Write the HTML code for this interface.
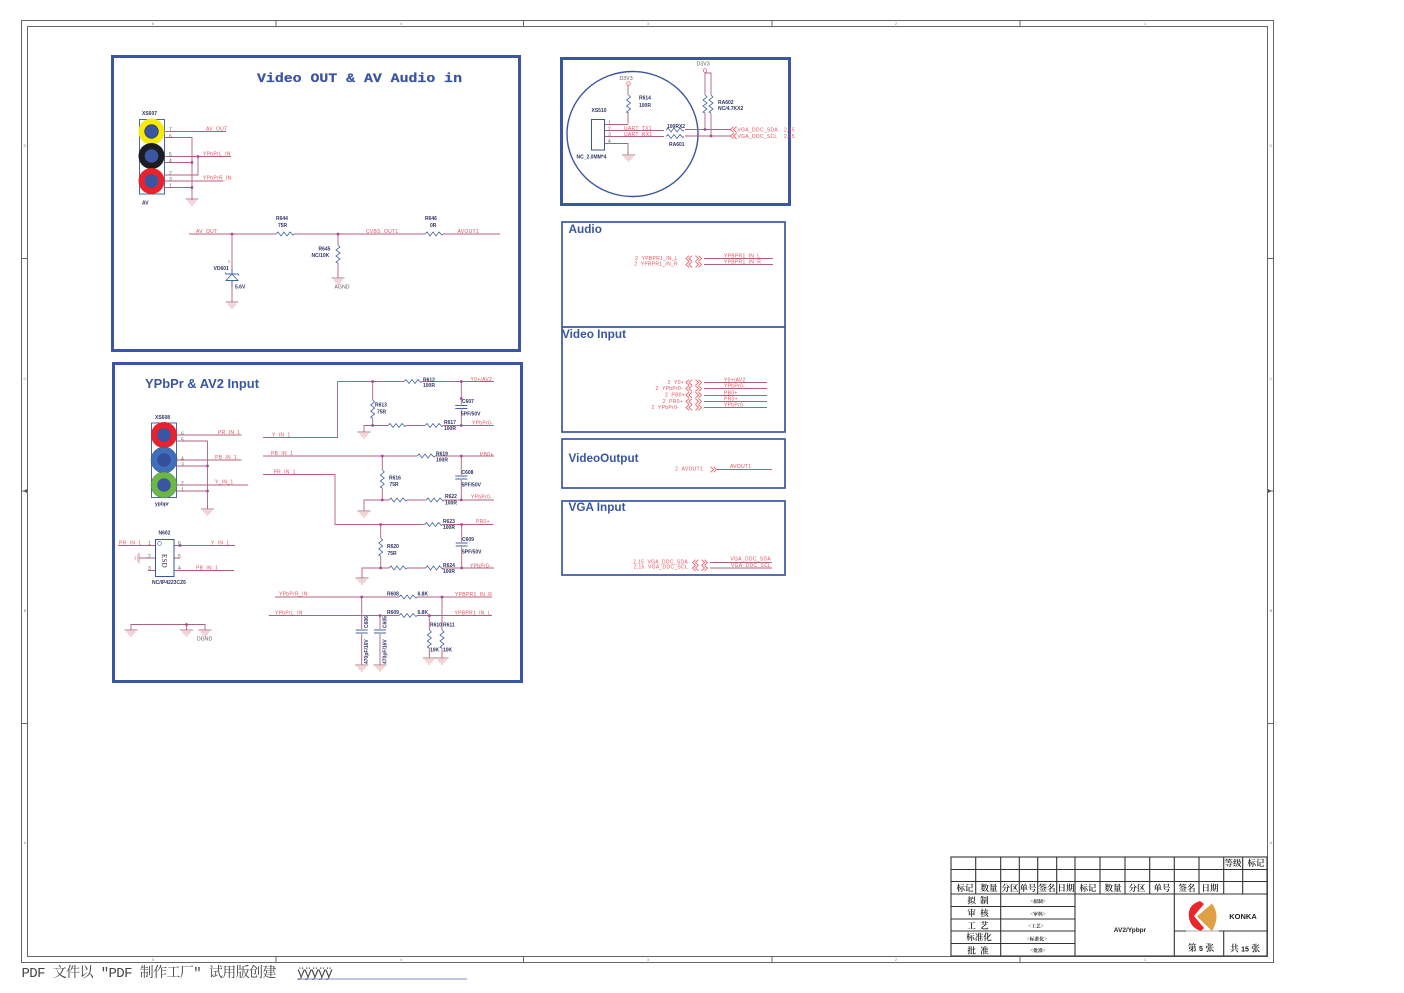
<!DOCTYPE html>
<html><head><meta charset="utf-8"><style>
html,body{margin:0;padding:0;background:#fff}
svg{display:block}
text{font-family:"Liberation Sans","Noto Sans CJK SC",sans-serif}
.r{fill:#e9505c;font-size:5px;letter-spacing:.3px}
.n{fill:#3d4270;font-size:5px;letter-spacing:.1px}
.nb{fill:#2f3464;font-size:5px;font-weight:bold}
.g{fill:#555;font-size:5px;letter-spacing:.2px}
.p{fill:#666;font-size:5px}
.t{fill:#3a55a2;font-size:11.8px;font-weight:bold}
.f{fill:#888;font-size:4px}
.c{fill:#111;font-family:"Liberation Serif","Noto Serif CJK SC",serif;font-size:8.5px;text-anchor:middle;font-weight:600}
.v{fill:#222;font-family:"Noto Serif CJK SC",serif;font-size:4.8px;text-anchor:middle;font-weight:700}
.w path,.w line,.w polyline{fill:none}
</style></head><body>
<svg width="1404" height="993" viewBox="0 0 1404 993" xmlns="http://www.w3.org/2000/svg">
<defs>
<g id="rh"><rect x="0" y="-3" width="18" height="6" fill="#fff"/><path d="M0,0l2,-2l3,4l3,-4l3,4l3,-4l3,3l1,-1" fill="none" stroke="#45639f" stroke-width=".8"/></g>
<g id="rv"><rect x="-3" y="0" width="6" height="18" fill="#fff"/><path d="M0,0l2,2l-4,3l4,3l-4,3l4,3l-4,3l2,1" fill="none" stroke="#45639f" stroke-width=".8"/></g>
<g id="gnd" fill="none" stroke="#e08a92" stroke-width=".65"><path d="M-6.5,0h13" stroke="#a0606f" stroke-width=".8"/><path d="M-4.5,2h9M-3,4h6M-1,6h2"/></g>
<g id="d"><rect x="-1.2" y="-1.2" width="2.4" height="2.4" fill="#a8409c"/></g>
<g id="cl" fill="none" stroke="#e8525e" stroke-width=".8"><path d="M3.5,-2.8l-3,2.8l3,2.8M6.5,-2.8l-3,2.8l3,2.8"/></g>
<g id="cr" fill="none" stroke="#e8525e" stroke-width=".8"><path d="M.5,-2.8l3,2.8l-3,2.8M3.5,-2.8l3,2.8l-3,2.8"/></g>
<g id="cap" fill="none" stroke="#45639f" stroke-width="1"><rect x="-6" y="-1" width="12" height="5" fill="#fff" stroke="none"/><path d="M-6,0h12M-6,3h12"/></g>
</defs>

<!-- frame -->
<g fill="none" stroke="#666" stroke-width="1">
<rect x="21.5" y="20.5" width="1252" height="942"/>
<rect x="27.5" y="26.5" width="1240" height="930" stroke="#666" stroke-width="1"/>
<path d="M276,21v6M523.5,21v6M772,21v6M1020,21v6M276,957v6M523.5,957v6M772,957v6M1020,957v6M22,258.5h6M22,491h6M22,723.5h6M1268,258.5h6M1268,491h6M1268,723.5h6"/>
</g>
<path d="M23,491l4,-2v4zM1272,491l-4,-2v4z" fill="#555"/>
<g class="f" text-anchor="middle">
<text class="f" x="153" y="25">6</text><text class="f" x="401" y="25">4</text><text class="f" x="648" y="25">3</text><text class="f" x="896" y="25">2</text><text class="f" x="1145" y="25">1</text>
<text class="f" x="153" y="961">5</text><text class="f" x="401" y="961">4</text><text class="f" x="648" y="961">3</text><text class="f" x="896" y="961">2</text><text class="f" x="1145" y="961">1</text>
<text class="f" x="25" y="147">D</text><text class="f" x="25" y="380">C</text><text class="f" x="25" y="612">B</text><text class="f" x="25" y="844">A</text>
<text class="f" x="1271" y="147">D</text><text class="f" x="1271" y="380">C</text><text class="f" x="1271" y="612">B</text><text class="f" x="1271" y="844">A</text>
</g>

<!-- blue boxes -->
<g fill="none" stroke="#3a55a2">
<rect x="112.5" y="56.5" width="407" height="294" stroke-width="3"/>
<rect x="561.5" y="58.5" width="228" height="146" stroke-width="3"/>
<rect x="113.5" y="363.5" width="408" height="318" stroke-width="3"/>
<rect x="562" y="222" width="223" height="210" stroke-width="1.7"/>
<path d="M562,327h223" stroke-width="1.7"/>
<rect x="562" y="439" width="223" height="49" stroke-width="1.7"/>
<rect x="562" y="501" width="223" height="74" stroke-width="1.7"/>
<ellipse cx="632.5" cy="134" rx="65.5" ry="62.5" stroke-width="1.4"/>
</g>

<!-- titles -->
<text x="257" y="82" textLength="205" lengthAdjust="spacingAndGlyphs" style="font-family:'Liberation Mono',monospace;font-weight:bold;font-size:13.2px;fill:#3a55a2;stroke:#3a55a2;stroke-width:.25px">Video OUT &amp; AV Audio in</text>
<text class="t" x="145" y="388" textLength="114" lengthAdjust="spacingAndGlyphs" style="font-size:12.5px">YPbPr &amp; AV2 Input</text>
<text class="t" x="568.5" y="233">Audio</text>
<text class="t" x="562" y="338" textLength="64" lengthAdjust="spacingAndGlyphs">Video Input</text>
<text class="t" x="568.5" y="462" textLength="70" lengthAdjust="spacingAndGlyphs">VideoOutput</text>
<text class="t" x="568.5" y="511" textLength="57" lengthAdjust="spacingAndGlyphs">VGA Input</text>

<!-- Box 1 wires -->
<g class="w" stroke="#b0607f" stroke-width=".9">
<path d="M165,131.5H226M165,137.5H192V200M165,156.5H231M165,162.5H192M165,175H198V156.5M165,181H223M165,187.5H192"/>
<path d="M189,234H500M232,234V302M338,234V278"/>
</g>
<rect x="139.5" y="119.5" width="25" height="74.5" fill="none" stroke="#3a55a2" stroke-width=".9"/>
<g>
<circle cx="151.5" cy="131.5" r="13" fill="#f5ea10"/><circle cx="151.5" cy="131.5" r="6.8" fill="#3a55a2" stroke="#1c2740" stroke-width=".6"/>
<circle cx="151.5" cy="156" r="13" fill="#1c1c22"/><circle cx="151.5" cy="156" r="6.8" fill="#3a55a2"/>
<circle cx="151.5" cy="181" r="13" fill="#e8232d"/><circle cx="151.5" cy="181" r="6.8" fill="#3a55a2"/>
</g>
<use href="#d" x="198" y="156.5"/><use href="#d" x="192" y="162.5"/><use href="#d" x="192" y="187.5"/>
<use href="#gnd" x="192" y="199"/><use href="#gnd" x="232" y="302"/><use href="#gnd" x="338" y="278"/>
<use href="#d" x="232" y="234"/><use href="#d" x="338" y="234"/>
<use href="#rh" x="276" y="234"/><use href="#rh" x="425" y="234"/><use href="#rv" x="338" y="245"/>
<path d="M226,280.5h12L232,274zM225,272.5l1,1.5h12l1,1.5M232,268v6M232,281v6" fill="#fff" stroke="#45639f" stroke-width=".9"/>
<text class="nb" x="142" y="115">XS607</text><text class="nb" x="142" y="204.5">AV</text>
<g>
<text class="p" x="169" y="131">7</text><text class="p" x="169" y="138">6</text><text class="p" x="169" y="156">5</text><text class="p" x="169" y="162.5">4</text><text class="p" x="169" y="175">2</text><text class="p" x="169" y="181">3</text><text class="p" x="169" y="187.5">1</text>
</g>
<text class="r" x="206" y="130.5">AV_OUT</text><text class="r" x="203" y="155.5">YPbPrL_IN</text><text class="r" x="203" y="179.5">YPbPrR_IN</text>
<text class="r" x="196" y="233">AV_OUT</text><text class="r" x="366" y="233">CVBS_OUT1</text><text class="r" x="457.5" y="233">AVOUT1</text>
<text class="nb" x="276" y="220">R644</text><text class="nb" x="278" y="227">75R</text>
<text class="nb" x="425" y="220">R646</text><text class="nb" x="430" y="227">0R</text>
<text class="nb" x="318.5" y="250.5">R645</text><text class="nb" x="311.5" y="257">NC/10K</text>
<text class="g" x="334.5" y="288.5">AGND</text><text class="nb" x="213.5" y="270">VD601</text><text class="nb" x="235" y="288.5">5.6V</text>
<text class="p" x="228" y="263" style="font-size:4px">2</text>

<!-- Box 2 -->
<g class="w" stroke="#b0607f" stroke-width=".9">
<path d="M628,85V123.5M604,124.5H628M604,130.5H664M604,136.5H664M604,143.5H628V155M685,129.5H731M685,136H731M705,73V129.5M705,73H711V136"/>
</g>
<rect x="591.5" y="119.5" width="13" height="30.5" fill="#fff" stroke="#3a55a2" stroke-width="1"/>
<circle cx="628.5" cy="83.5" r="1.8" fill="#fff" stroke="#e9505c" stroke-width=".7"/>
<circle cx="705" cy="70.5" r="1.8" fill="#fff" stroke="#e9505c" stroke-width=".7"/>
<use href="#rv" x="628.5" y="95"/><use href="#rv" x="705" y="95"/><use href="#rv" x="711" y="95"/>
<use href="#rh" x="666" y="130"/><use href="#rh" x="666" y="136.5"/>
<use href="#gnd" x="628.5" y="155"/><use href="#d" x="705" y="129.5"/><use href="#d" x="711" y="136"/>
<use href="#cl" x="730" y="129.5"/><use href="#cl" x="730" y="136"/>
<text class="g" x="619.5" y="80">D3V3</text><text class="g" x="696.5" y="65.5">D3V3</text>
<text class="nb" x="639" y="99.5">R614</text><text class="nb" x="639" y="107">100R</text>
<text class="nb" x="591.5" y="112">XS510</text><text class="nb" x="576.5" y="158.5">NC_2.0MM*4</text>
<text class="p" x="608" y="124.5">1</text><text class="p" x="608" y="130.5">2</text><text class="p" x="608" y="136.5">3</text><text class="p" x="608" y="143">4</text>
<text class="r" x="624" y="130">UART_TX1</text><text class="r" x="624" y="136">UART_RX1</text>
<text class="nb" x="667" y="128">100RX2</text><text class="nb" x="669" y="146">RA601</text>
<text class="nb" x="718" y="104">RA602</text><text class="nb" x="718" y="110">NC/4.7KX2</text>
<text class="r" x="737.5" y="131.5">VGA_DDC_SDA</text><text class="r" x="737.5" y="138">VGA_DDC_SCL</text>
<text class="r" x="784" y="131.5">2,15</text><text class="r" x="784" y="138">2,15</text>

<!-- Right boxes -->
<g class="w" stroke="#b0607f" stroke-width=".9">
<path d="M704,258.5H773M704,264.5H773M704,382.5H767M704,388.5H767M704,395.5H767M704,401.5H767M704,407.5H767M717,469.5H772M710,562.5H772M710,568H772"/>
</g>
<use href="#cl" x="685.5" y="258.5"/><use href="#cr" x="695" y="258.5"/><use href="#cl" x="685.5" y="264.5"/><use href="#cr" x="695" y="264.5"/>
<use href="#cl" x="685.5" y="382.5"/><use href="#cr" x="695" y="382.5"/><use href="#cl" x="685.5" y="388.5"/><use href="#cr" x="695" y="388.5"/><use href="#cl" x="685.5" y="395"/><use href="#cr" x="695" y="395"/><use href="#cl" x="685.5" y="401.5"/><use href="#cr" x="695" y="401.5"/><use href="#cl" x="685.5" y="407.5"/><use href="#cr" x="695" y="407.5"/>
<use href="#cr" x="710" y="469.5"/>
<use href="#cl" x="692" y="562.5"/><use href="#cr" x="701" y="562.5"/><use href="#cl" x="692" y="568"/><use href="#cr" x="701" y="568"/>
<g text-anchor="end">
<text class="r" x="678" y="260">2&#160;&#160;YPBPR1_IN_L</text><text class="r" x="678" y="265.5">2&#160;&#160;YPBPR1_IN_R</text>
<text class="r" x="684" y="384">2&#160;&#160;Y0+</text><text class="r" x="683" y="390">2&#160;&#160;YPbPr0-</text><text class="r" x="685" y="396.5">2&#160;&#160;PB0+</text><text class="r" x="683" y="403">2&#160;&#160;PR0+</text><text class="r" x="679" y="409">2&#160;&#160;YPbPr0-</text>
<text class="r" x="703" y="470.5">2&#160;&#160;AVOUT1</text>
<text class="r" x="688" y="563.5">2,15&#160;&#160;VGA_DDC_SDA</text><text class="r" x="688" y="568.5">2,15&#160;&#160;VGA_DDC_SCL</text>
<text class="r" x="771" y="560.5">VGA_DDC_SDA</text><text class="r" x="771" y="567">VGA_DDC_SCL</text>
</g>
<text class="r" x="724" y="257.5">YPBPR1_IN_L</text><text class="r" x="724" y="263.5">YPBPR1_IN_R</text>
<text class="r" x="724" y="381.5">Y0+/AV2</text><text class="r" x="724" y="387.5">YPbPr0-</text><text class="r" x="724" y="394.5">PB0+</text><text class="r" x="724" y="400.5">PR0+</text><text class="r" x="724" y="406.5">YPbPr0-</text>
<text class="r" x="730" y="468">AVOUT1</text>

<!-- Box 4 left -->
<g class="w" stroke="#b0607f" stroke-width=".9">
<path d="M177,435H241.5M177,441H207.5V509M177,460H241.5M177,466H207.5M177,485H248M177,491H207.5"/>
<path d="M118,545.5H156M174,545.5H235M174,558H180M148,570.5H156M174,570.5H234M139,558H156"/>
<path d="M131,630V624.5H205V630M186.5,624.5V630"/>
<path d="M263,437.5H337.5V381.5H494M372.7,381.5V425.5M364,432V425.5H494M461.3,381.5V425.5"/>
<path d="M263,456H494M382.3,456V500M364,511V500H494M461.3,456V500"/>
<path d="M263,474.5H335V524.5H493M380.7,524.5V568M362,578V568H494M461.7,524.5V568"/>
<path d="M275,597H492M268.7,615.5H492M361.7,597V665M380,615.5V665M429.3,615.5V658M442,597V658"/>
</g>
<rect x="151.5" y="423" width="25" height="74.5" fill="none" stroke="#3a55a2" stroke-width=".9"/>
<circle cx="164" cy="435" r="13" fill="#e8232d"/><circle cx="164" cy="435" r="6.8" fill="#3a55a2"/>
<circle cx="164" cy="460" r="13" fill="#3f6fb8" stroke="#2d4f90" stroke-width=".5"/><circle cx="164" cy="460" r="6.8" fill="#34509a"/>
<circle cx="164" cy="485" r="13" fill="#6db845" stroke="#3a6f70" stroke-width=".5"/><circle cx="164" cy="485" r="6.8" fill="#3a55a2"/>
<use href="#d" x="207.5" y="466"/><use href="#d" x="207.5" y="491"/><use href="#gnd" x="207.5" y="509"/>
<rect x="155.5" y="539.5" width="18.5" height="37" fill="#fff" stroke="#3a55a2" stroke-width="1"/>
<circle cx="159.5" cy="543.5" r="1.9" fill="#fff" stroke="#3a55a2" stroke-width=".6"/>
<use href="#d" x="180" y="545.5"/>
<use href="#gnd" transform="translate(139,558) rotate(90) scale(.8)"/>
<use href="#gnd" x="131" y="630"/><use href="#gnd" x="186.5" y="630"/><use href="#gnd" x="205" y="630"/><use href="#d" x="186.5" y="624.5"/>
<text class="nb" x="155" y="419">XS608</text><text class="nb" x="155" y="505.5">ypbpr</text><text class="nb" x="158.5" y="534.5">N602</text><text class="nb" x="152" y="584">NC/IP4223CZ6</text>
<text class="p" x="181" y="435.5">6</text><text class="p" x="181" y="441.5">5</text><text class="p" x="181" y="460.5">4</text><text class="p" x="181" y="466.5">3</text><text class="p" x="181" y="485">2</text><text class="p" x="181" y="491.5">1</text>
<text class="p" x="148" y="545">1</text><text class="p" x="148" y="558">2</text><text class="p" x="148" y="570">3</text><text class="p" x="178" y="545">6</text><text class="p" x="178" y="558">5</text><text class="p" x="178" y="570">4</text>
<text class="g" transform="translate(162,554) rotate(90)" style="font-family:'Liberation Serif',serif;font-size:7px;fill:#333">ESD</text>
<text class="r" x="218" y="434">PR_IN_1</text><text class="r" x="215" y="459">PB_IN_1</text><text class="r" x="215" y="483.5">Y_IN_1</text>
<text class="r" x="119" y="544.5">PR_IN_1</text><text class="r" x="211" y="544.5">Y_IN_1</text><text class="r" x="196" y="569.5">PB_IN_1</text>
<text class="g" x="197" y="640.5">DGND</text>
<text class="r" x="272" y="436.5">Y_IN_1</text><text class="r" x="271" y="455">PB_IN_1</text><text class="r" x="273.5" y="473.5">PR_IN_1</text>
<text class="r" x="279" y="595.5">YPbPrR_IN</text><text class="r" x="275" y="614.5">YPbPrL_IN</text>

<!-- Box 4 right components -->
<use href="#rh" x="404" y="381.5"/><use href="#rv" x="372.7" y="400"/><use href="#rh" x="388" y="425.5"/><use href="#rh" x="425" y="425.5"/>
<use href="#rh" x="417" y="456"/><use href="#rv" x="382.3" y="470"/><use href="#rh" x="389" y="500"/><use href="#rh" x="426" y="500"/>
<use href="#rh" x="424.5" y="524.5"/><use href="#rv" x="380.7" y="538"/><use href="#rh" x="389" y="568"/><use href="#rh" x="425.5" y="568"/>
<use href="#rh" x="399" y="597"/><use href="#rh" x="399" y="615.5"/><use href="#rv" x="429.3" y="630"/><use href="#rv" x="442" y="630"/>
<use href="#cap" x="461.3" y="405.5"/><use href="#cap" x="461.3" y="476"/><use href="#cap" x="461.7" y="543"/>
<use href="#cap" x="361.7" y="630"/><use href="#cap" x="380" y="630"/>
<use href="#gnd" x="364" y="432"/><use href="#gnd" x="364" y="511"/><use href="#gnd" x="362" y="578"/>
<use href="#gnd" x="361.7" y="665"/><use href="#gnd" x="380" y="665"/><use href="#gnd" x="429.3" y="658"/><use href="#gnd" x="442" y="658"/>
<use href="#d" x="372.7" y="381.5"/><use href="#d" x="461.3" y="381.5"/><use href="#d" x="372.7" y="425.5"/><use href="#d" x="461.3" y="425.5"/><use href="#d" x="461.3" y="398.5"/>
<use href="#d" x="382.3" y="456"/><use href="#d" x="461.3" y="456"/><use href="#d" x="382.3" y="500"/><use href="#d" x="461.3" y="500"/>
<use href="#d" x="380.7" y="524.5"/><use href="#d" x="461.7" y="524.5"/><use href="#d" x="380.7" y="568"/><use href="#d" x="461.7" y="568"/>
<use href="#d" x="361.7" y="597"/><use href="#d" x="380" y="615.5"/><use href="#d" x="429.3" y="615.5"/><use href="#d" x="442" y="597"/>

<text class="nb" x="423" y="381.5">R612</text><text class="nb" x="423" y="387">100R</text><text class="r" x="470.5" y="381">Y0+/AV2</text>
<text class="nb" x="375" y="406.5">R613</text><text class="nb" x="377" y="413.5">75R</text>
<text class="nb" x="462" y="403">C607</text><text class="nb" x="461" y="415.5">5PF/50V</text>
<text class="nb" x="444" y="424">R617</text><text class="nb" x="444" y="430">100R</text><text class="r" x="472" y="424.5">YPbPr0-</text>
<text class="nb" x="436" y="455.5">R619</text><text class="nb" x="436" y="461.5">100R</text><text class="r" x="480" y="456">PB0+</text>
<text class="nb" x="389" y="479.5">R616</text><text class="nb" x="389.5" y="486">75R</text>
<text class="nb" x="461.5" y="474">C608</text><text class="nb" x="461.5" y="486.5">5PF/50V</text>
<text class="nb" x="445" y="498">R622</text><text class="nb" x="445" y="504.5">100R</text><text class="r" x="471" y="498.5">YPbPr0-</text>
<text class="nb" x="443" y="523">R623</text><text class="nb" x="443" y="529">100R</text><text class="r" x="476" y="523">PR0+</text>
<text class="nb" x="387" y="548">R620</text><text class="nb" x="387.5" y="555">75R</text>
<text class="nb" x="462" y="541">C609</text><text class="nb" x="462" y="553.5">5PF/50V</text>
<text class="nb" x="443" y="567">R624</text><text class="nb" x="443" y="573">100R</text><text class="r" x="470" y="567.5">YPbPr0-</text>
<text class="nb" x="387" y="595.5">R608</text><text class="nb" x="417.5" y="595.5">6.8K</text><text class="r" x="455" y="596">YPBPR1_IN_R</text>
<text class="nb" x="387" y="614">R609</text><text class="nb" x="417.5" y="614">6.8K</text><text class="r" x="454.5" y="614.5">YPBPR1_IN_L</text>
<text class="nb" x="430" y="626.5">R610</text><text class="nb" x="443" y="626.5">R611</text><text class="nb" x="430" y="651.5">10K</text><text class="nb" x="443" y="651.5">10K</text>
<text class="nb" transform="translate(368,628) rotate(-90)">C606</text><text class="nb" transform="translate(368,664) rotate(-90)">470pF/16V</text>
<text class="nb" transform="translate(386.5,628) rotate(-90)">C605</text><text class="nb" transform="translate(386.5,664) rotate(-90)">470pF/16V</text>

<!-- Title block -->
<g fill="none" stroke="#333" stroke-width="1.1">
<rect x="951" y="857" width="316" height="99"/>
<path d="M951,869.5H1267M951,881.5H1267M951,894H1267M951,906.5H1075M951,919H1075M951,931H1075M951,943.5H1075M1174.3,931H1267"/>
<path d="M975.7,857V894M1000.7,857V956M1019.3,857V894M1037.7,857V894M1056.7,857V894M1075,857V956M1100,857V894M1125,857V894M1149.7,857V894M1174.3,857V956M1199,857V894M1223.7,857V894M1242.7,857V894M1223.7,931V956"/>
</g>
<text class="c" x="1233" y="866">等级</text><text class="c" x="1256" y="866">标记</text>
<text class="c" x="965" y="891">标记</text><text class="c" x="989" y="891">数量</text><text class="c" x="1010" y="891">分区</text><text class="c" x="1028" y="891">单号</text><text class="c" x="1047" y="891">签名</text><text class="c" x="1066" y="891">日期</text>
<text class="c" x="1088" y="891">标记</text><text class="c" x="1113" y="891">数量</text><text class="c" x="1137" y="891">分区</text><text class="c" x="1162" y="891">单号</text><text class="c" x="1187" y="891">签名</text><text class="c" x="1210" y="891">日期</text>
<text class="c" x="978" y="903.5">拟&#160;&#160;制</text><text class="c" x="978" y="916">审&#160;&#160;核</text><text class="c" x="978" y="928.5">工&#160;&#160;艺</text><text class="c" x="979" y="940">标准化</text><text class="c" x="978" y="953.5">批&#160;&#160;准</text>
<text class="v" x="1038" y="903">&lt;拟制&gt;</text><text class="v" x="1038" y="915.5">&lt;审核&gt;</text><text class="v" x="1036" y="927.5">&lt;工艺&gt;</text><text class="v" x="1037" y="940.5">&lt;标准化&gt;</text><text class="v" x="1038" y="952">&lt;批准&gt;</text>
<text x="1130" y="932" text-anchor="middle" style="font-size:6.5px;font-weight:bold;fill:#222">AV2/Ypbpr</text>
<text x="1243" y="919" text-anchor="middle" style="font-size:7.5px;font-weight:bold;fill:#222">KONKA</text>
<text class="c" x="1201" y="951" style="font-size:9px">第 <tspan style="font-family:'Liberation Sans';font-weight:bold;font-size:7px">5</tspan> 张</text>
<text class="c" x="1245" y="951.5" style="font-size:9px">共 <tspan style="font-family:'Liberation Sans';font-weight:bold;font-size:7px">15</tspan> 张</text>
<path d="M1197,916.5L1212,903.5Q1221,916 1212,931Z" fill="#dea042"/>
<path d="M1200,901Q1187,905 1189,918Q1191,928 1201,931L1204,928L1194,916L1204,904Z" fill="#e8262c"/>
<rect x="1186" y="930.6" width="33" height="1" fill="#bbb"/>

<!-- footer -->
<text x="21.5" y="977" textLength="255" style="font-family:'Liberation Mono','Noto Serif CJK SC',monospace;font-size:14px;fill:#444">PDF 文件以 "PDF 制作工厂" 试用版创建</text>
<text x="297" y="977" textLength="36" style="font-family:'Liberation Mono',monospace;font-size:14px;fill:#444">ÿÿÿÿÿ</text>
<rect x="297" y="978.5" width="170" height="1" fill="#7d8fc4"/>
</svg>
</body></html>
